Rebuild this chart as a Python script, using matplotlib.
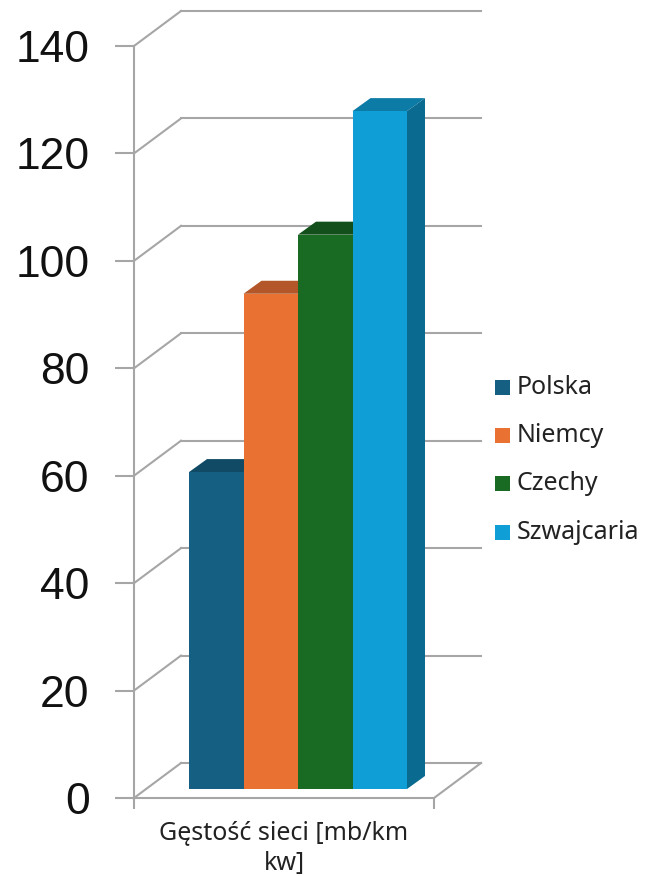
import numpy as np
import matplotlib
matplotlib.use("Agg")
import matplotlib.pyplot as plt
from matplotlib.patches import Polygon, Rectangle

categories = ["Polska", "Niemcy", "Czechy", "Szwajcaria"]
values = [59, 92.2, 103.2, 126.2]
colors = ["#156082", "#E97132", "#196B24", "#0F9ED5"]
tops = ["#104A64", "#B3572A", "#134F1B", "#0C7BA6"]
sides = ["#0E4A66", "#B5561F", "#124F1A", "#0A6A90"]
ticks = [0, 20, 40, 60, 80, 100, 120, 140]
xlabel = ["Gęstość sieci [mb/km", "kw]"]

plt.rcParams["font.family"] = ["Noto Sans", "DejaVu Sans"]
W, H = 646, 876
fig = plt.figure(figsize=(W / 100, H / 100), dpi=100)

# data axes: back wall sits up and right of the front axis
ax = fig.add_axes([134 / W, 1 - 798 / H, 300 / W, (798 - 46) / H])
ax.set_xlim(0, 300)
ax.set_ylim(0, 140)
ax.patch.set_alpha(0)
for s in ["top", "right"]:
    ax.spines[s].set_visible(False)
for s in ["left", "bottom"]:
    ax.spines[s].set_color("#A6A6A6")
    ax.spines[s].set_linewidth(1.5)
ax.set_yticks(ticks)
ax.set_yticklabels([str(t) for t in ticks], fontsize=32, color="#111111",
                   family=["Liberation Sans", "DejaVu Sans"])
ax.tick_params(axis="y", length=14, width=1.5, color="#A6A6A6", direction="out", pad=18)
ax.set_xticks([0, 300])
ax.set_xticklabels(["", ""])
ax.tick_params(axis="x", length=8, width=1.5, color="#A6A6A6", direction="out")
fig.text(284 / W, 1 - 833 / H, xlabel[0], fontsize=18, ha="center", va="center", color="#222222")
fig.text(284 / W, 1 - 864 / H, xlabel[1], fontsize=18, ha="center", va="center", color="#222222")

# depth offset in axis units
dx = 47
dy = 35 * 140 / 752
gray = "#A6A6A6"
for t in ticks:
    ax.plot([0, dx], [t, t + dy], color=gray, lw=1.5, clip_on=False, zorder=1)
    ax.plot([dx, 347], [t + dy, t + dy], color=gray, lw=1.5, clip_on=False, zorder=1)
ax.plot([300, 347], [0, dy], color=gray, lw=1.5, clip_on=False, zorder=1)

# the bars
bw = 54.5
x0 = 55
ox = 18
oy = 13 * 140 / 752
base = 9 * 140 / 752
for i, v in enumerate(values):
    x = x0 + i * bw
    t = base + v
    ax.add_patch(Polygon([[x, t], [x + ox, t + oy], [x + bw + ox, t + oy], [x + bw, t]],
                         fc=tops[i], ec="none", zorder=3 + i, clip_on=False))
    ax.add_patch(Polygon([[x + bw, base], [x + bw + ox, base + oy], [x + bw + ox, t + oy], [x + bw, t]],
                         fc=sides[i], ec="none", zorder=3 + i, clip_on=False))
    ax.add_patch(Rectangle((x, base), bw, v, fc=colors[i], ec="none", zorder=4 + i))

# legend
ly = [387.5, 435.5, 483.5, 532]
for name, c, y in zip(categories, colors, ly):
    fig.patches.append(Rectangle((495 / W, 1 - (y + 7.5) / H), 15 / W, 15 / H, fc=c, ec="none",
                                 transform=fig.transFigure))
    fig.text(517 / W, 1 - (y + 0.5) / H, name, fontsize=18, va="center", ha="left", color="#222222")

fig.savefig("out.png", dpi=100)
